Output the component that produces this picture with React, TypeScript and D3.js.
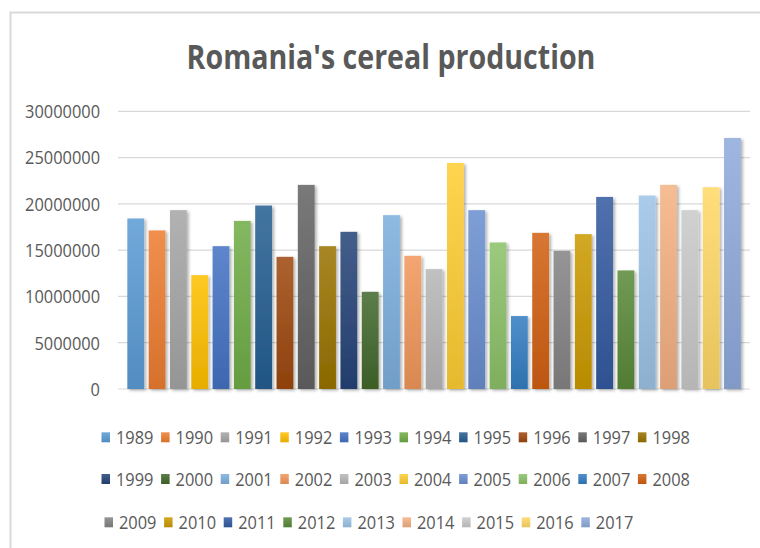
import { useMemo } from 'react';
import * as d3 from 'd3';

const years = [
  '1989', '1990', '1991', '1992', '1993', '1994', '1995', '1996', '1997', '1998',
  '1999', '2000', '2001', '2002', '2003', '2004', '2005', '2006', '2007', '2008',
  '2009', '2010', '2011', '2012', '2013', '2014', '2015', '2016', '2017'
];

const production = [
  18420000, 17130000, 19320000, 12300000, 15430000, 18160000, 19820000, 14280000, 22050000, 15430000,
  16980000, 10500000, 18780000, 14390000, 12950000, 24420000, 19320000, 15830000, 7880000, 16870000,
  14930000, 16730000, 20750000, 12810000, 20900000, 22050000, 19320000, 21800000, 27120000
];

const barColors = [
  '#5B9BD5', '#ED7D31', '#A5A5A5', '#FFC000', '#4472C4', '#70AD47', '#255E91', '#9E480E', '#636363', '#997300',
  '#264478', '#43682B', '#7CAFDD', '#F1975A', '#B7B7B7', '#FFCD33', '#698ED0', '#8CC168', '#327DC2', '#D26012',
  '#848484', '#CC9A00', '#335AA1', '#5A8A39', '#9DC3E6', '#F4B183', '#C9C9C9', '#FFD966', '#8FAADC'
];

const yTicks = [0, 5000000, 10000000, 15000000, 20000000, 25000000, 30000000];

const legendRows = [years.slice(0, 10), years.slice(10, 20), years.slice(20)];

const FONT = '"Open Sans", "Noto Sans", sans-serif';
const TEXT = '#595959';

export default function App() {
  const width = 760;
  const height = 548;

  const x = useMemo(
    () => d3.scaleBand<string>().domain(years).range([125.1, 743.1]).paddingInner(0.21).paddingOuter(0.105),
    []
  );
  const y = useMemo(() => d3.scaleLinear().domain([0, 30000000]).range([389, 111.3]), []);

  const legendBaselines = [444.3, 486, 529.3];
  const legendStarts = [101.5, 101.5, 104.5];
  const legendStep = 59.6;

  return (
    <svg width={width} height={height} style={{ position: 'absolute', left: 0, top: 0, display: 'block' }}>
      <defs>
        {barColors.map((c, i) => (
          <linearGradient key={i} id={`g${i}`} x1="0" y1="0" x2="0" y2="1">
            <stop offset="0%" stopColor={d3.interpolateRgb(c, '#ffffff')(0.14)} />
            <stop offset="100%" stopColor={d3.interpolateRgb(c, '#000000')(0.1)} />
          </linearGradient>
        ))}
        <filter id="shadow" x="-30%" y="-10%" width="160%" height="130%">
          <feDropShadow dx="2" dy="1.5" stdDeviation="1.8" floodColor="#000" floodOpacity="0.3" />
        </filter>
      </defs>

      <rect x={0} y={0} width={width} height={height} fill="#fff" />
      <path d={`M10.5,${height} V12.5 H${width}`} fill="none" stroke="#d9d9d9" strokeWidth={2} />

      <text
        transform={`translate(391,69.3) scale(1,1.18)`}
        textAnchor="middle"
        fontFamily={FONT}
        fontWeight={700}
        fontSize={28.6}
        fill={TEXT}
      >
        Romania's cereal production
      </text>

      {yTicks.map((t) => (
        <g key={t}>
          <line x1={118} x2={750} y1={y(t)} y2={y(t)} stroke="#d9d9d9" strokeWidth={1.2} />
          <text
            transform={`translate(100,${y(t) + 6.8}) scale(1,1.14)`}
            textAnchor="end"
            fontFamily={FONT}
            fontSize={16.4}
            fill={TEXT}
          >
            {t}
          </text>
        </g>
      ))}

      <g filter="url(#shadow)">
        {years.map((yr, i) => (
          <rect
            key={yr}
            x={x(yr)}
            y={y(production[i])}
            width={x.bandwidth()}
            height={y(0) - y(production[i])}
            fill={`url(#g${i})`}
          />
        ))}
      </g>

      {legendRows.map((row, r) =>
        row.map((yr, j) => {
          const i = years.indexOf(yr);
          const lx = legendStarts[r] + j * legendStep;
          const base = legendBaselines[r];
          return (
            <g key={yr}>
              <rect x={lx} y={base - 12} width={8.5} height={10} fill={`url(#g${i})`} />
              <text
                transform={`translate(${lx + 14.5},${base}) scale(1,1.14)`}
                fontFamily={FONT}
                fontSize={16.4}
                fill={TEXT}
              >
                {yr}
              </text>
            </g>
          );
        })
      )}
    </svg>
  );
}
